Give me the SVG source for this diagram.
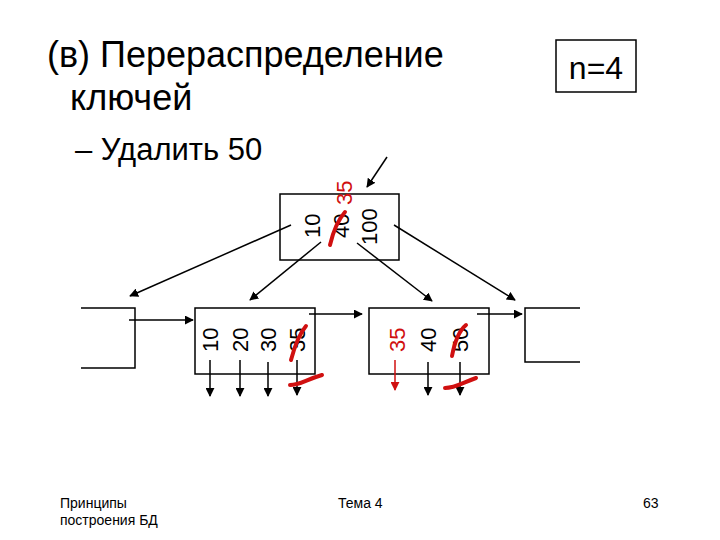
<svg xmlns="http://www.w3.org/2000/svg" width="720" height="540" viewBox="0 0 720 540">
<defs><marker id="a" viewBox="0 0 10 10" refX="9" refY="5" markerWidth="6" markerHeight="6" orient="auto"><path d="M0,0L10,5L0,10z" fill="context-stroke"/></marker>
<style>text{font-family:"Liberation Sans",Arial,sans-serif}.k{font-size:22px}.r{fill:#d01010}.b{fill:none;stroke:#000;stroke-width:1.5}.c{stroke:#000;stroke-width:1.5;marker-end:url(#a)}.s{fill:none;stroke:#d01010;stroke-width:4;stroke-linecap:round}</style></defs>
<rect width="720" height="540" fill="#fff"/>
<text x="47" y="67" font-size="36">(в) Перераспределение</text>
<text x="70" y="110" font-size="36">ключей</text>
<text x="75" y="160" font-size="31">– Удалить 50</text>
<g id="n"><rect x="556" y="40" width="80" height="52" class="b"/><text x="596" y="79" font-size="32" text-anchor="middle">n=4</text></g>
<g id="root"><rect x="280" y="194" width="119" height="66" class="b"/>
<text class="k" transform="translate(320,238) rotate(-90)">10</text>
<text class="k" transform="translate(349,238) rotate(-90)">40</text>
<text class="k r" transform="translate(352,205) rotate(-90)">35</text>
<text class="k" transform="translate(377,245) rotate(-90)">100</text></g>
<g id="leafL"><rect x="195" y="308" width="120" height="66" class="b"/>
<text class="k" transform="translate(218,352) rotate(-90)">10</text>
<text class="k" transform="translate(248,352) rotate(-90)">20</text>
<text class="k" transform="translate(276,352) rotate(-90)">30</text>
<text class="k" transform="translate(305,352) rotate(-90)">35</text></g>
<g id="leafR"><rect x="369" y="308" width="120" height="66" class="b"/>
<text class="k r" transform="translate(405,352) rotate(-90)">35</text>
<text class="k" transform="translate(436,352) rotate(-90)">40</text>
<text class="k" transform="translate(468,352) rotate(-90)">50</text></g>
<g id="boxL"><path d="M81,308H135V368H81" class="b"/></g>
<g id="boxR"><path d="M580,308H525V362H580" class="b"/></g>
<g id="connectors">
<line x1="387" y1="157" x2="367" y2="187" class="c"/>
<line x1="291" y1="225" x2="130" y2="296" class="c"/>
<line x1="321" y1="242" x2="250" y2="300" class="c"/>
<line x1="357" y1="243" x2="432" y2="301" class="c"/>
<line x1="394" y1="225" x2="515" y2="300" class="c"/>
<line x1="129" y1="320" x2="193" y2="320" class="c"/>
<line x1="309" y1="314" x2="362" y2="314" class="c"/>
<line x1="477" y1="314" x2="522" y2="314" class="c"/>
<line x1="210" y1="360" x2="210" y2="396" class="c"/>
<line x1="240" y1="360" x2="240" y2="396" class="c"/>
<line x1="268" y1="362" x2="268" y2="396" class="c"/>
<line x1="297" y1="360" x2="297" y2="395" class="c"/>
<line x1="395" y1="360" x2="395" y2="390" class="c" style="stroke:#d01010"/>
<line x1="428" y1="362" x2="428" y2="395" class="c"/>
<line x1="460" y1="362" x2="460" y2="395" class="c"/>
</g>
<g id="marks">
<path d="M330,245C333,232 338,220 345,212" class="s"/>
<path d="M291,360C295,345 300,333 306,326" class="s"/>
<path d="M290,385C300,385 305,380 322,375" class="s"/>
<path d="M452,356C455,340 460,330 466,325" class="s"/>
<path d="M445,388C455,388 462,383 476,378" class="s"/>
</g>
<text x="60" y="508" font-size="14">Принципы</text>
<text x="60" y="525" font-size="14">построения БД</text>
<text x="338" y="508" font-size="14">Тема 4</text>
<text x="643" y="508" font-size="14">63</text>
</svg>
